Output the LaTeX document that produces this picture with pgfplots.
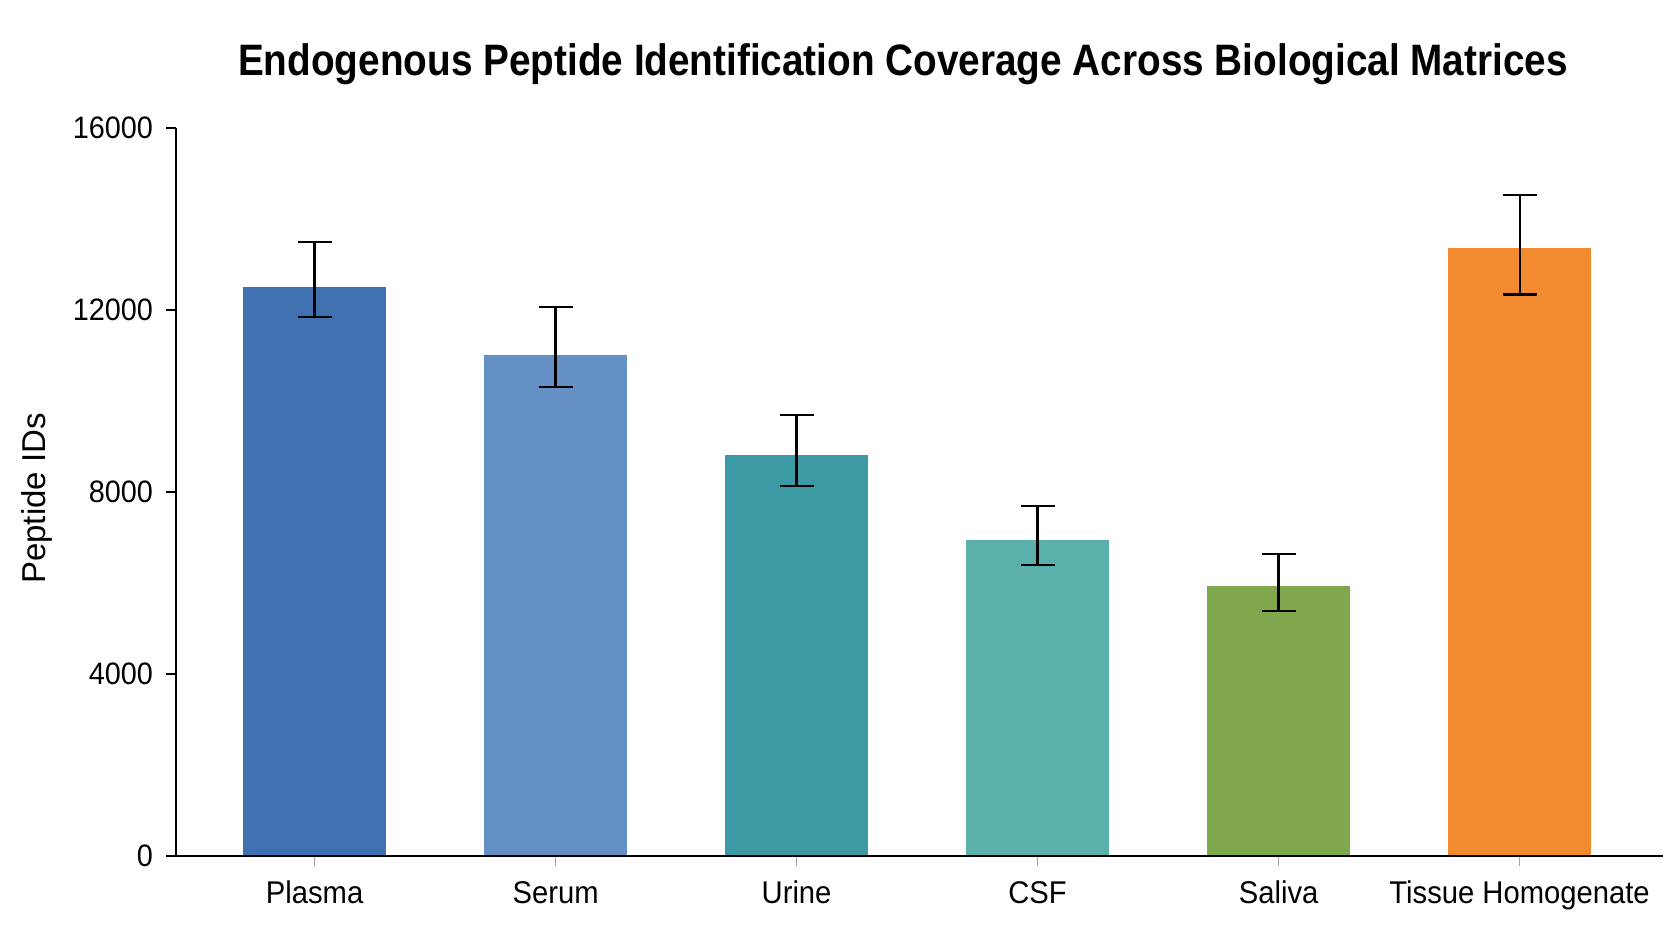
\documentclass[border=0pt]{standalone}
\usepackage{fontspec}
\setmainfont{Liberation Sans}[FakeStretch=0.93]
\newfontfamily\titlefont{Liberation Sans}[FakeStretch=0.88]
\newfontfamily\ylabfont{Liberation Sans}
\usepackage{pgfplots}
\pgfplotsset{compat=1.18}
\definecolor{cPlasma}{HTML}{3F71B0}
\definecolor{cSerum}{HTML}{6490C6}
\definecolor{cUrine}{HTML}{3C9AA4}
\definecolor{cCSF}{HTML}{5BB0AC}
\definecolor{cSaliva}{HTML}{7EA84B}
\definecolor{cTissue}{HTML}{F28B30}
\pgfplotsset{
  errstyle/.style={ybar, bar shift=0pt, draw=none,
    error bars/.cd, y dir=both, y explicit,
    error bar style={draw=black, line width=1.1pt},
    error mark options={rotate=90, mark size=8.5pt, line width=1.1pt, draw=black},
    /pgfplots/.cd}
}
\begin{document}
\begin{tikzpicture}
\path[use as bounding box] (0,0) rectangle (836pt,470.5pt);
\begin{axis}[
  at={(88pt,42.5pt)}, anchor=south west,
  scale only axis, width=743.5pt, height=364pt,
  xmin=-0.575, xmax=5.595, ymin=0, ymax=16000,
  axis x line*=bottom, axis y line*=left,
  axis line style={black, line width=1pt, -},
  xtick={0,1,2,3,4,5},
  xticklabels={Plasma,Serum,Urine,CSF,Saliva,Tissue Homogenate},
  ytick={0,4000,8000,12000,16000},
  scaled y ticks=false,
  /pgf/number format/assume math mode=true,
  /pgf/number format/1000 sep={},
  tick align=outside,
  major tick length=5pt,
  ytick style={black, line width=1pt},
  xtick style={gray!70, line width=0.5pt},
  xticklabel style={font=\fontsize{15.7}{18}\selectfont, yshift=-7.5pt, text height=0.75em, text depth=0.25em},
  yticklabel style={font=\fontsize{15.5}{18}\selectfont, xshift=-3pt},
  ylabel={Peptide IDs},
  every axis y label/.style={at={(axis description cs:-0.0935,0.491)}, rotate=90, anchor=center, font=\ylabfont\fontsize{16.5}{19}\selectfont},
  bar width=0.593,
  axis on top,
]
\addplot[fill=cPlasma, errstyle] coordinates {(0,12500) += (0,990) -= (0,660)};
\addplot[fill=cSerum, errstyle] coordinates {(1,11000) += (0,1070) -= (0,700)};
\addplot[fill=cUrine, errstyle] coordinates {(2,8820) += (0,870) -= (0,680)};
\addplot[fill=cCSF, errstyle] coordinates {(3,6950) += (0,750) -= (0,560)};
\addplot[fill=cSaliva, errstyle] coordinates {(4,5930) += (0,710) -= (0,550)};
\addplot[fill=cTissue, errstyle] coordinates {(5,13360) += (0,1170) -= (0,1020)};
\end{axis}
\node[font=\titlefont\bfseries\fontsize{22}{26}\selectfont] at (451.5pt,438.4pt) {Endogenous Peptide Identification Coverage Across Biological Matrices};
\end{tikzpicture}
\end{document}
